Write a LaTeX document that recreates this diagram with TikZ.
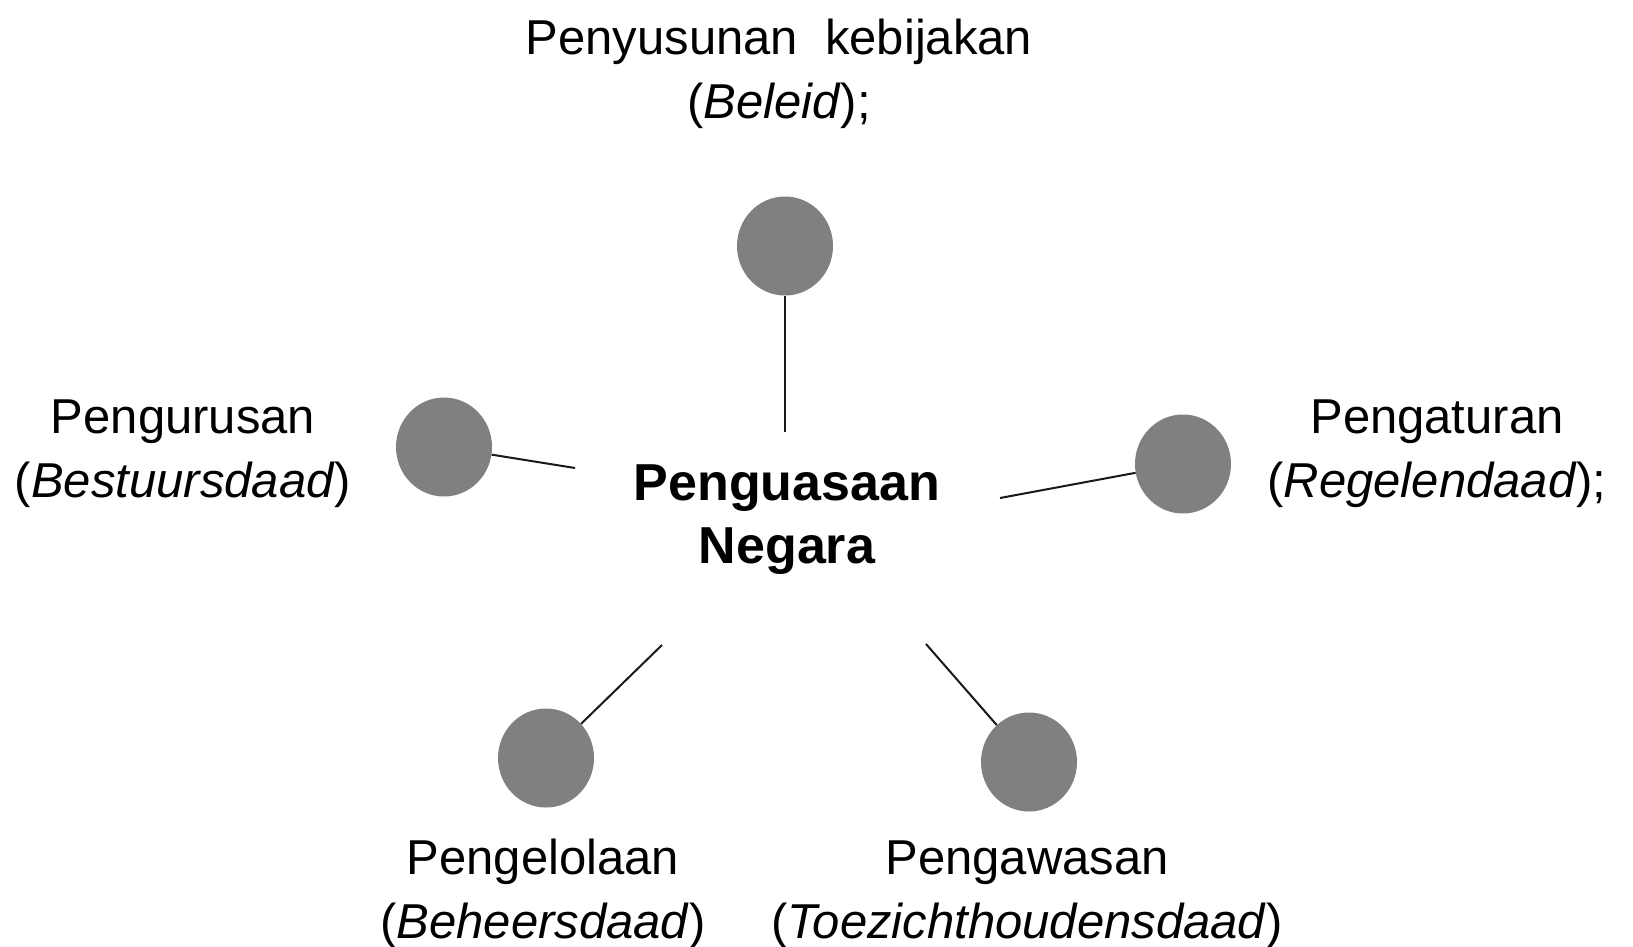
\documentclass[tikz,border=0pt]{standalone}
\usepackage{fontspec}
\setmainfont{Liberation Sans}
\usetikzlibrary{shapes.geometric}
\definecolor{dotgray}{HTML}{808080}
\begin{document}
\begin{tikzpicture}[x=1pt,y=-1pt,
  dot/.style={ellipse, fill=dotgray, draw=none, minimum width=96pt, minimum height=99pt, inner sep=0pt},
  lbl/.style={align=center, inner sep=0pt, font=\fontsize{49}{64}\selectfont, anchor=base},
  conn/.style={line width=2pt, draw=black!90}]
\useasboundingbox (0,0) rectangle (1633,946);
\fill[white] (0,0) rectangle (1633,946);

\node[dot] (top) at (785,246) {};
\node[dot] (left) at (444,447) {};
\node[dot] (right) at (1183,464) {};
\node[dot] (bl) at (546,758) {};
\node[dot] (br) at (1029,762) {};

\node[font=\bfseries\fontsize{52}{63}\selectfont, align=center, anchor=base, inner sep=0pt] (center) at (787,563) {Penguasaan\\Negara};

\coordinate (ct) at (785,432);
\coordinate (cl) at (575,468);
\coordinate (cr) at (1000,498);
\coordinate (cbl) at (662,645);
\coordinate (cbr) at (926,644);

\draw[conn] (ct) -- (top);
\draw[conn] (cl) -- (left);
\draw[conn] (cr) -- (right);
\draw[conn] (cbl) -- (bl);
\draw[conn] (cbr) -- (br);

\node[lbl] (ltop) at (779,118) {Penyusunan\ \ kebijakan\\(\textit{Beleid});};
\node[lbl] (lleft) at (183,497) {Pengurusan\\(\textit{Bestuursdaad})};
\node[lbl] (lright) at (1437,497) {Pengaturan\\(\textit{Regelendaad});};
\node[lbl] (lbot) at (543,938) {Pengelolaan\\(\textit{Beheersdaad})};
\node[lbl] (lbr) at (1027,938) {Pengawasan\\(\textit{Toezichthoudensdaad})};
\end{tikzpicture}
\end{document}
